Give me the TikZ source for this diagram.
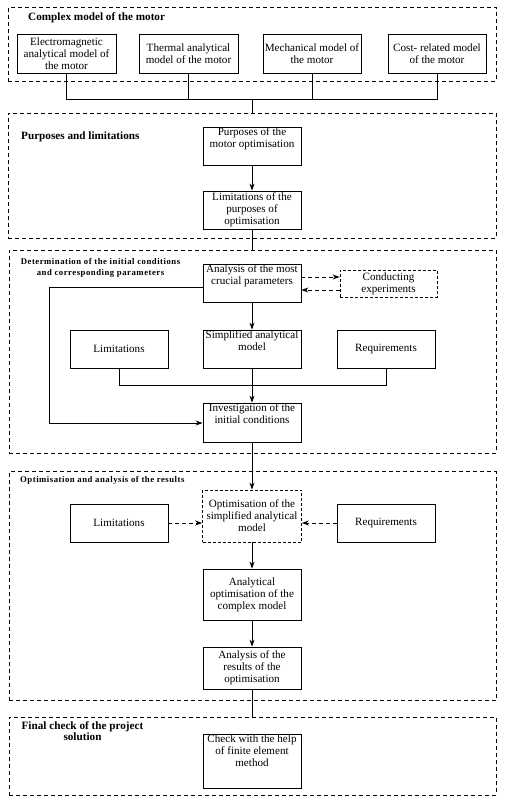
\documentclass[tikz,border=0pt]{standalone}
\usepackage{fontspec}
\setmainfont{Liberation Serif}
\newfontfamily\spacedfont[LetterSpace=6]{Liberation Serif}
\usetikzlibrary{arrows.meta}
\begin{document}
\begin{tikzpicture}[x=1pt,y=-1pt,
  every node/.style={font=\fontsize{11.1}{12}\selectfont},
  box/.style={draw, line width=0.8pt, inner sep=0pt, minimum width=98pt, align=center},
  dbox/.style={box, dash pattern=on 3pt off 2pt},
  frame/.style={draw, line width=0.9pt, dash pattern=on 4pt off 3pt, inner sep=0pt},
  conn/.style={line width=0.8pt},
  arr/.style={conn, -{Stealth[length=7pt,width=5pt]}},
  darr/.style={arr, dash pattern=on 4pt off 3pt},
  toptext/.style={label={[align=center, inner sep=0pt, anchor=north, yshift=-1pt]north:{#1}}},
  title/.style={font=\fontsize{11.2}{11}\selectfont\bfseries, inner sep=0pt, align=center},
  stitle/.style={font=\fontsize{8.7}{11}\selectfont\spacedfont\bfseries, inner sep=0pt, align=center},
]
\useasboundingbox (0,0) rectangle (507,806);
% frames
\node[frame, minimum width=488pt, minimum height=73.5pt] (s1) at (252,44.25) {};
\node[frame, minimum width=488pt, minimum height=125pt] (s2) at (252,175.5) {};
\node[frame, minimum width=487pt, minimum height=203pt] (s3) at (252.5,351.5) {};
\node[frame, minimum width=487pt, minimum height=229pt] (s4) at (252.5,586) {};
\node[frame, minimum width=487pt, minimum height=78pt] (s5) at (252.5,756) {};
% titles
\node[title, anchor=west] (t1) at (28,18) {Complex model of the motor};
\node[title, anchor=west] (t2) at (21,137) {Purposes and limitations};
\node[stitle] (t3) at (100.5,267.5) {Determination of the initial conditions\\and corresponding parameters};
\node[stitle, anchor=west] (t4) at (20,480) {Optimisation and analysis of the results};
\node[title] (t5) at (82.5,731.5) {Final check of the project\\solution};
% section 1
\node[box, minimum width=99pt, minimum height=39pt] (e1) at (66.5,53.5) {Electromagnetic\\analytical model of\\the motor};
\node[box, minimum width=99pt, minimum height=39pt] (e2) at (188.5,53.5) {Thermal analytical\\model of the motor};
\node[box, minimum height=39pt] (e3) at (312,53.5) {Mechanical model of\\the motor};
\node[box, minimum height=39pt] (e4) at (437,53.5) {Cost- related model\\of the motor};
% section 2
\node[box, minimum height=38pt, toptext={Purposes of the\\motor optimisation}] (p1) at (252,146) {};
\node[box, minimum height=38pt] (p2) at (252,210) {Limitations of the\\purposes of\\optimisation};
% section 3
\node[box, minimum height=38pt, toptext={Analysis of the most\\crucial parameters}] (a1) at (252,283) {};
\node[dbox, minimum width=97pt, minimum height=27pt] (ce) at (388.5,283.5) {Conducting\\experiments};
\node[box, minimum height=38pt] (lim1) at (119,349) {Limitations};
\node[box, minimum height=38pt, toptext={Simplified analytical\\model}] (sim) at (252,349) {};
\node[box, minimum height=38pt] (req1) at (386,349) {Requirements};
\node[box, minimum height=39pt, toptext={Investigation of the\\initial conditions}] (inv) at (252,422.5) {};
% section 4
\node[dbox, minimum width=99pt, minimum height=52pt] (opt) at (252,516) {Optimisation of the\\simplified analytical\\model};
\node[box, minimum height=38pt] (lim2) at (119,523) {Limitations};
\node[box, minimum height=38pt] (req2) at (386,523) {Requirements};
\node[box, minimum height=51pt] (aco) at (252,594.5) {Analytical\\optimisation of the\\complex model};
\node[box, minimum height=42pt] (res) at (252,668) {Analysis of the\\results of the\\optimisation};
% section 5
\node[box, minimum height=54pt, toptext={Check with the help\\of finite element\\method}] (chk) at (252,761) {};
% connectors
\coordinate (bus) at (252,99);
\draw[conn] (e1.south) -- (e1.south |- bus) -- (e4.south |- bus) -- (e4.south);
\draw[conn] (e2.south) -- (e2.south |- bus);
\draw[conn] (e3.south) -- (e3.south |- bus);
\draw[conn] (bus) -- (bus |- s2.north);
\draw[arr] (p1) -- (p2);
\draw[conn] (p2.south) -- (p2.south |- s3.north);
\draw[darr] ([yshift=6.5pt]ce.west -| a1.east) -- ([yshift=6.5pt]ce.west);
\draw[darr] ([yshift=-6.5pt]ce.west) -- ([yshift=-6.5pt]ce.west -| a1.east);
\draw[arr] ([yshift=-4pt]a1.west) -- ++(-153,0) |- ([yshift=-0.5pt]inv.west);
\draw[arr] (a1) -- (sim);
\draw[arr] (sim) -- (inv);
\coordinate (bus2) at (252,385);
\draw[conn] (lim1.south) -- (lim1.south |- bus2) -- (req1.south |- bus2) -- (req1.south);
\draw[arr] (inv) -- (opt);
\draw[darr] (lim2.east) -- (lim2.east -| opt.west);
\draw[darr] (req2.west) -- (req2.west -| opt.east);
\draw[arr] (opt) -- (aco);
\draw[arr] (aco) -- (res);
\draw[conn] (res.south) -- (res.south |- s5.north);
\end{tikzpicture}
\end{document}
